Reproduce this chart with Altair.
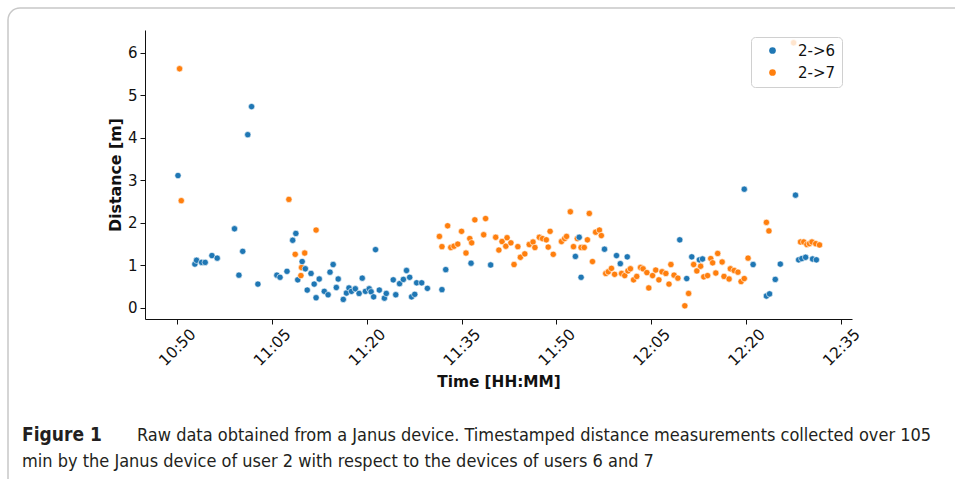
import altair as alt
import pandas as pd

# ---- data ----
blue_times = ["10:50:10", "10:52:50", "10:53:06", "10:53:54", "10:54:28", "10:55:32", "10:56:22",
              "10:59:06", "10:59:48", "11:00:24", "11:01:12", "11:01:48", "11:02:48", "11:05:48",
              "11:06:18", "11:07:24", "11:08:18", "11:08:48", "11:09:06", "11:09:48", "11:10:18",
              "11:10:36", "11:11:12", "11:11:42", "11:12:00", "11:12:30", "11:13:18", "11:13:54",
              "11:14:12", "11:14:42", "11:15:12", "11:15:30", "11:16:18", "11:16:48", "11:17:12",
              "11:17:36", "11:18:12", "11:18:48", "11:19:18", "11:19:48", "11:20:24", "11:20:42",
              "11:21:06", "11:21:24", "11:22:00", "11:22:48", "11:23:06", "11:24:12", "11:24:36",
              "11:25:12", "11:25:48", "11:26:18", "11:26:48", "11:27:06", "11:27:36", "11:27:54",
              "11:28:42", "11:29:36", "11:31:54", "11:32:30", "11:36:30", "11:39:36", "11:53:00",
              "11:53:36", "11:53:54", "11:57:36", "11:59:30", "12:00:06", "12:01:12", "12:09:30",
              "12:10:36", "12:11:24", "12:12:36", "12:13:06", "12:19:42", "12:21:06", "12:23:12",
              "12:23:42", "12:24:36", "12:25:24", "12:27:48", "12:28:18", "12:28:48", "12:29:24",
              "12:30:30", "12:31:06"]
blue_dist = [3.11, 1.03, 1.12, 1.07, 1.07, 1.23, 1.17,
             1.86, 0.77, 1.33, 4.07, 4.73, 0.56, 0.77,
             0.72, 0.86, 1.59, 1.75, 0.66, 1.09, 0.92,
             0.42, 0.81, 0.56, 0.24, 0.68, 0.39, 0.31,
             0.84, 1.02, 0.48, 0.68, 0.20, 0.35, 0.47,
             0.39, 0.45, 0.34, 0.70, 0.39, 0.45, 0.38,
             0.26, 1.37, 0.42, 0.23, 0.34, 0.66, 0.31,
             0.57, 0.67, 0.88, 0.72, 0.26, 0.32, 0.59,
             0.59, 0.46, 0.43, 0.90, 1.05, 1.01, 1.21,
             1.66, 0.72, 1.38, 1.23, 1.04, 1.20, 1.60,
             0.69, 1.20, 1.13, 1.15, 2.79, 1.02, 0.28,
             0.33, 0.67, 1.03, 2.65, 1.13, 1.16, 1.19,
             1.15, 1.13]

orange_times = ["10:50:25", "10:50:41", "11:07:42", "11:08:42", "11:09:36", "11:09:42", "11:10:12",
                "11:12:00", "11:31:30", "11:31:54", "11:32:48", "11:33:18", "11:33:48", "11:34:24",
                "11:35:00", "11:35:42", "11:36:18", "11:36:36", "11:37:06", "11:38:30", "11:38:48",
                "11:40:24", "11:40:54", "11:41:24", "11:42:00", "11:42:12", "11:42:48", "11:43:18",
                "11:43:54", "11:44:18", "11:45:00", "11:45:42", "11:46:18", "11:46:36", "11:47:18",
                "11:47:48", "11:48:24", "11:48:42", "11:49:00", "11:49:30", "11:50:48", "11:51:18",
                "11:51:36", "11:52:12", "11:52:42", "11:53:18", "11:53:54", "11:54:24", "11:54:54",
                "11:55:12", "11:55:42", "11:56:12", "11:56:48", "11:57:06", "11:57:48", "11:58:12",
                "11:58:42", "11:59:12", "12:00:18", "12:00:48", "12:01:18", "12:01:42", "12:02:12",
                "12:02:42", "12:03:18", "12:03:42", "12:04:18", "12:04:36", "12:05:12", "12:05:42",
                "12:06:12", "12:06:42", "12:07:18", "12:07:48", "12:08:06", "12:08:36", "12:09:12",
                "12:10:18", "12:10:54", "12:11:42", "12:12:12", "12:12:48", "12:13:18", "12:13:54",
                "12:14:24", "12:14:42", "12:15:12", "12:15:30", "12:16:12", "12:16:30", "12:17:18",
                "12:17:30", "12:18:06", "12:18:42", "12:19:12", "12:19:42", "12:20:18", "12:23:12",
                "12:23:36", "12:27:30", "12:28:36", "12:29:06", "12:29:36", "12:30:00", "12:30:24",
                "12:31:00", "12:31:36"]
orange_dist = [5.62, 2.52, 2.55, 1.26, 0.76, 0.95, 1.29,
               1.83, 1.68, 1.44, 1.93, 1.42, 1.45, 1.50,
               1.80, 1.29, 1.63, 1.53, 2.07, 1.72, 2.10,
               1.66, 1.36, 1.56, 1.45, 1.65, 1.53, 1.02,
               1.44, 1.19, 1.27, 1.49, 1.55, 1.42, 1.66,
               1.63, 1.60, 1.43, 1.80, 1.26, 1.56, 1.63,
               1.68, 2.26, 1.44, 1.63, 1.42, 1.42, 1.60,
               2.22, 1.09, 1.78, 1.83, 1.70, 0.81, 0.85,
               0.93, 0.79, 0.81, 0.76, 0.87, 0.92, 0.66,
               0.74, 0.95, 0.92, 0.83, 0.47, 0.76, 0.89,
               0.66, 0.85, 0.81, 0.56, 1.02, 0.77, 0.70,
               0.05, 0.34, 1.02, 0.87, 0.98, 0.73, 0.76,
               1.16, 1.06, 0.82, 1.28, 1.08, 0.74, 0.68,
               0.92, 0.88, 0.84, 0.62, 0.69, 1.17, 2.01,
               1.81, 6.23, 1.55, 1.55, 1.49, 1.51, 1.55,
               1.51, 1.48]

series_names = ["2->6", "2->7"]
series_colors = ["#1f77b4", "#ff7f0e"]
tick_times = ["10:50", "11:05", "11:20", "11:35", "11:50", "12:05", "12:20", "12:35"]
y_ticks = [0, 1, 2, 3, 4, 5, 6]

caption_bold = "Figure 1"
caption_line1 = "Raw data obtained from a Janus device. Timestamped distance measurements collected over 105"
caption_line2 = "min by the Janus device of user 2 with respect to the devices of users 6 and 7"

DAY = "2021-01-01T"

df = pd.DataFrame({
    "time": [DAY + t for t in blue_times] + [DAY + t for t in orange_times],
    "distance": blue_dist + orange_dist,
    "pair": [series_names[0]] * len(blue_times) + [series_names[1]] * len(orange_times),
})
df = df.sort_values("time").reset_index(drop=True)


def dt(hms):
    h, m, s = (list(map(int, hms.split(":"))) + [0])[:3]
    return alt.DateTime(year=2021, month=1, date=1, hours=h, minutes=m, seconds=s)


W, H = 707, 289
PADL, PADT = 145, 30
FONT = "DejaVu Sans"
CAP_FONT = "Liberation Sans Narrow, DejaVu Sans Condensed, Liberation Sans"

points = alt.Chart(df).mark_point(
    filled=True, opacity=1, size=40, stroke="white", strokeWidth=0.6
).encode(
    x=alt.X(
        "time:T",
        scale=alt.Scale(domain=[dt("10:44:57"), dt("12:36:44")], nice=False),
        axis=alt.Axis(
            values=[dt(t) for t in tick_times], format="%H:%M", labelAngle=-45,
            labelAlign="center", labelBaseline="middle", labelPadding=23,
            labelFont=FONT, labelFontSize=15.5, labelColor="#111",
            tickSize=5, tickColor="#111", domainColor="#111", grid=False,
            title="Time [HH:MM]", titleFont=FONT, titleFontSize=15.3, titleFontWeight="bold",
            titleColor="#111", titleY=67, titleBaseline="alphabetic",
        ),
    ),
    y=alt.Y(
        "distance:Q",
        scale=alt.Scale(domain=[-0.26, 6.53], nice=False, zero=False),
        axis=alt.Axis(
            values=y_ticks, labelFont=FONT, labelFontSize=15, labelColor="#111",
            labelPadding=3, tickSize=5, tickColor="#111", domainColor="#111", grid=False,
            title="Distance [m]", titleFont=FONT, titleFontSize=15.8, titleFontWeight="bold",
            titleColor="#111", titleX=-25, titleY=H / 2, titleAngle=-90,
            titleAlign="center", titleBaseline="alphabetic",
        ),
    ),
    color=alt.Color(
        "pair:N",
        scale=alt.Scale(domain=series_names, range=series_colors),
        legend=alt.Legend(
            title=None, orient="none", legendX=606, legendY=7,
            fillColor="rgba(255,255,255,0.8)", strokeColor="#d0d0d0", cornerRadius=4,
            padding=6, symbolOffset=8, symbolType="circle", symbolSize=45,
            symbolStrokeWidth=0,
            labelFont=FONT, labelFontSize=15, labelColor="#111", labelOffset=18,
            rowPadding=6,
        ),
    ),
)

txt = pd.DataFrame({"k": [0]})
frame = alt.Chart(txt).mark_rect(
    filled=False, stroke="#c8c8c8", strokeWidth=1.5, cornerRadius=12
).encode(
    x=alt.value(8 - PADL), y=alt.value(8 - PADT),
    x2=alt.value(975 - PADL), y2=alt.value(500 - PADT),
)

cap_b = alt.Chart(txt).mark_text(
    text=caption_bold, font=CAP_FONT, fontSize=19, fontWeight="bold",
    align="left", baseline="alphabetic", color="#231f20",
).encode(x=alt.value(22 - PADL), y=alt.value(441 - PADT))

cap_1 = alt.Chart(txt).mark_text(
    text=caption_line1, font=CAP_FONT, fontSize=18,
    align="left", baseline="alphabetic", color="#231f20",
).encode(x=alt.value(137 - PADL), y=alt.value(441 - PADT))

cap_2 = alt.Chart(txt).mark_text(
    text=caption_line2, font=CAP_FONT, fontSize=18,
    align="left", baseline="alphabetic", color="#231f20",
).encode(x=alt.value(22 - PADL), y=alt.value(467 - PADT))

chart = alt.layer(frame, points, cap_b, cap_1, cap_2).properties(
    width=W, height=H,
    autosize=alt.AutoSizeParams(type="none"),
    padding={"left": PADL, "top": PADT, "right": 955 - PADL - W, "bottom": 479 - PADT - H},
    background="white",
).configure_view(stroke=None)

chart.save("out.html", embed_options={"renderer": "svg", "actions": False})
